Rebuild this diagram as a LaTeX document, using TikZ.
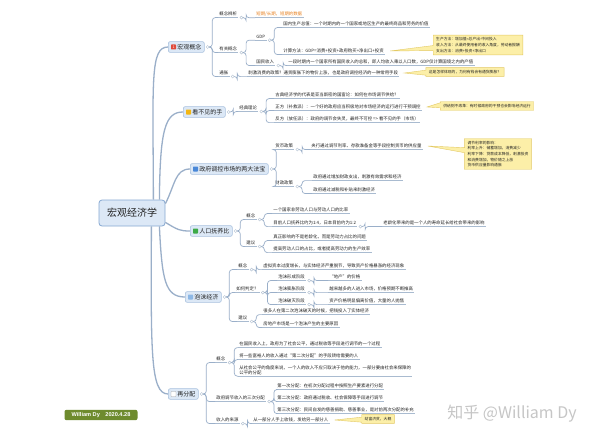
\documentclass[tikz,border=0pt]{standalone}
\usepackage{fontspec}
\setmainfont{Noto Sans CJK SC}
\newfontfamily\sigfont{Liberation Sans}
\usetikzlibrary{calc,shapes.callouts}
\definecolor{linec}{HTML}{9AAFC9}
\definecolor{ulc}{HTML}{A9BBD0}
\definecolor{mainf}{HTML}{DCE8F6}
\definecolor{mainb}{HTML}{A9C1DE}
\definecolor{centb}{HTML}{86A8D2}
\definecolor{txt}{HTML}{222222}
\definecolor{cofill}{HTML}{FCEFA8}
\definecolor{codraw}{HTML}{E3C964}
\definecolor{orangetx}{HTML}{E8801E}
\definecolor{sigf}{HTML}{6E8B2E}
\definecolor{dotc}{HTML}{B3C1D1}
\definecolor{icred}{HTML}{E04A3A}
\definecolor{icyel}{HTML}{F3B613}
\definecolor{icblue}{HTML}{4A88D8}
\definecolor{icgreen}{HTML}{3DAA48}
\definecolor{iclblue}{HTML}{8DB8E6}
\newcommand\lfnt{\fontsize{4.4}{5.2}\selectfont}
\newcommand\mfnt{\fontsize{6}{7}\selectfont}
\newcommand\cfnt{\fontsize{3.8}{5.6}\selectfont}
\newcommand\lfx[4][]{\node[leaf,#1] (#2) at (#3) {#4};}
\newcommand\dtx[1]{\node[dotn] (#1c) at ([xshift=3pt]#1.south east) {};}
\newcommand\cnx[2]{\draw[cline] (#1.east) -- ++(3,0) |- (#2.south west);}
\tikzset{
 cline/.style={draw=linec, line width=0.7pt, rounded corners=3pt},
 mline/.style={draw=linec, line width=1.3pt},
 uline/.style={draw=ulc, line width=0.5pt},
 leaf/.style={anchor=west, inner xsep=1.2pt, inner ysep=1.3pt, font=\lfnt, text=txt, append after command={(\tikzlastnode.south west) edge[uline] (\tikzlastnode.south east)}},
 dotn/.style={circle, draw=dotc, fill=white, line width=0.4pt, minimum size=3pt, inner sep=0pt},
 mainnode/.style={anchor=west, draw=mainb, fill=mainf, rounded corners=2pt, line width=0.6pt, font=\mfnt, text=txt, inner xsep=3pt, inner ysep=2.6pt},
 iconb/.style={rectangle, minimum size=5pt, inner sep=0pt, rounded corners=0.6pt, font=\fontsize{3.6}{3.6}\selectfont, text=white},
 co/.style={rectangle callout, fill=cofill, draw=codraw, line width=0.4pt, font=\cfnt, text=txt, align=left, inner xsep=3pt, inner ysep=2.5pt, callout pointer width=5pt},
 centernode/.style={draw=centb, fill=mainf, rounded corners=3pt, line width=0.8pt, font=\fontsize{10}{12}\selectfont, text=txt, minimum width=66pt, minimum height=26pt},
}
\begin{document}
\begin{tikzpicture}[x=1pt,y=-1pt]
\useasboundingbox (0,0) rectangle (600,444);
\fill[white] (0,0) rectangle (600,444);

% centre
\node[centernode] (c) at (132,213) {宏观经济学};

% main nodes
\node[mainnode] (m1) at (168,47) {\hspace*{6pt}宏观概念};
\node[mainnode] (m2) at (183,112) {\hspace*{6pt}看不见的手};
\node[mainnode] (m3) at (190,169) {\hspace*{6pt}政府调控市场的两大法宝};
\node[mainnode] (m4) at (190,231) {\hspace*{6pt}人口抚养比};
\node[mainnode] (m5) at (185,297) {\hspace*{6pt}泡沫经济};
\node[mainnode] (m6) at (168,394) {\hspace*{6pt}再分配};
\node[iconb,fill=icred] (i1) at ([xshift=5.5pt]m1.west) {1};
\node[iconb,fill=icyel] (i2) at ([xshift=5.5pt]m2.west) {};
\node[iconb,fill=icblue] (i3) at ([xshift=5.5pt]m3.west) {};
\node[iconb,fill=icgreen] (i4) at ([xshift=5.5pt]m4.west) {};
\node[iconb,fill=iclblue] (i5) at ([xshift=5.5pt]m5.west) {};
\node[iconb,fill=white,draw=gray!70,line width=0.4pt] (i6) at ([xshift=5.5pt]m6.west) {};
\foreach \m in {m1,m2,m3,m4,m5,m6}{\node[dotn] (\m c) at ([xshift=3pt]\m.east) {};}

% main curves
\draw[mline] ([xshift=-12pt]c.north east) .. controls (153,80) and (150,47) .. (m1.west);
\draw[mline] ([xshift=-6pt]c.north east) .. controls (160,130) and (165,112) .. (m2.west);
\draw[mline] ([yshift=-4pt]c.north east) .. controls (175,185) and (175,169) .. (m3.west);
\draw[mline] ([yshift=4pt]c.south east) .. controls (178,230) and (180,231) .. (m4.west);
\draw[mline] ([xshift=-6pt]c.south east) .. controls (162,280) and (165,297) .. (m5.west);
\draw[mline] ([xshift=-14pt]c.south east) .. controls (151,350) and (150,394) .. (m6.west);

% ---------- branch 1
\lfx{a1}{218,14}{概念辨析} \dtx{a1}
\lfx[text=orangetx]{a11}{255,14}{短期/长期，短期的数据}
\lfx{a2}{218,49}{有关概念} \dtx{a2}
\lfx{a21}{255,37}{GDP} \dtx{a21}
\lfx{a211}{282,24}{国内生产总值：一个时期内的一个国家或地区生产的最终商品和劳务的价值}
\lfx{a212}{282,51}{计算方法：GDP=消费+投资+政府购买+净出口+投资}
\lfx{a22}{255,62}{国民收入} \dtx{a22}
\lfx{a221}{287,62}{一段时期内一个国家所有国民收入的总和，即人均收入乘以人口数，GDP仅计算国境之内的产值}
\lfx{a3}{218,73}{通胀} \dtx{a3}
\lfx{a31}{247,73}{刺激消费的政策？通货膨胀下的物价上涨，也是政府调控经济的一种常用手段}
\cnx{m1c}{a1} \cnx{m1c}{a2} \cnx{m1c}{a3}
\cnx{a1c}{a11} \cnx{a2c}{a21} \cnx{a2c}{a22}
\cnx{a21c}{a211} \cnx{a21c}{a212} \cnx{a22c}{a221} \cnx{a3c}{a31}
\node[co, callout absolute pointer={([xshift=5pt]a212.east)}] (k1) at (478,45) {生产方法：增加值=总产出-中间投入\\收入方法：从最终使用者的收入角度，劳动者报酬\\支出方法：消费+投资+净出口};
\node[co, callout absolute pointer={([xshift=5pt]a31.east)}] (k1b) at (465,72) {这是怎样体现的，为何有钱会有通货膨胀？};

% ---------- branch 2
\lfx{b1}{238,108}{经典理论} \dtx{b1}
\lfx{b11}{274,95}{古典经济学的代表是亚当斯密的国富论：如何在市场调节供给？}
\lfx{b12}{274,107}{正方（补救派）：一个好的政府应当积极地对市场经济的运行进行干预调控}
\lfx{b13}{274,119}{反方（放任派）：政府的调节会失灵，最终不可控 => 看不见的手（市场）}
\cnx{m2c}{b1} \cnx{b1c}{b11} \cnx{b1c}{b12} \cnx{b1c}{b13}
\node[co, callout absolute pointer={([xshift=5pt]b12.east)}] (k2) at (487,106) {供给侧不改革：有时候政府的干预也会影响经济运行};

% ---------- branch 3
\lfx{c1}{274,146}{货币政策} \dtx{c1}
\lfx{c11}{310,146}{央行通过调节利率、存款准备金等手段控制货币的供应量}
\lfx{c2}{274,183}{财政政策} \dtx{c2}
\lfx{c21}{312,177}{政府通过增加财政支出，刺激有效需求和经济}
\lfx{c22}{312,190}{政府通过减税和补贴来刺激经济}
\cnx{m3c}{c1} \cnx{m3c}{c2} \cnx{c1c}{c11} \cnx{c2c}{c21} \cnx{c2c}{c22}
\node[co, callout absolute pointer={([xshift=5pt]c11.east)}] (k3) at (498,154) {调节利率的影响：\\利率上升：储蓄增加，消费减少\\利率下降：贷款成本降低，刺激投资\\和消费增加，物价随之上涨\\货币供应量影响通胀};

% ---------- branch 4
\lfx{d1}{245,216}{概念} \dtx{d1}
\lfx{d11}{272,210}{一个国家非劳动人口与劳动人口的比率}
\lfx{d12}{272,223}{目前人口抚养比约为1:4，日本目前约为1:2} \dtx{d12}
\lfx{d121}{382,223}{老龄化带来的是一个人的寿命延长给社会带来的影响}
\lfx{d2}{245,243}{建议} \dtx{d2}
\lfx{d21}{272,237}{真正影响的不是老龄化，而是劳动力占比的问题}
\lfx{d22}{272,249}{提高劳动人口的占比，或者提高劳动力的生产效率}
\cnx{m4c}{d1} \cnx{m4c}{d2} \cnx{d1c}{d11} \cnx{d1c}{d12} \cnx{d12c}{d121}
\cnx{d2c}{d21} \cnx{d2c}{d22}

% ---------- branch 5
\lfx{e1}{237,266}{概念} \dtx{e1}
\lfx{e11}{262,266}{虚拟资本过度增长，与实体经济严重脱节，导致资产价格暴涨的经济现象}
\lfx{e2}{235,289}{如何判定？} \dtx{e2}
\lfx{e21}{277,277}{泡沫形成阶段} \dtx{e21}
\lfx{e211}{328,277}{“地产”的价格}
\lfx{e22}{277,289}{泡沫膨胀阶段} \dtx{e22}
\lfx{e221}{328,289}{越来越多的人进入市场，价格预期不断推高}
\lfx{e23}{277,301}{泡沫破灭阶段} \dtx{e23}
\lfx{e231}{328,301}{资产价格明显偏离价值，大量的人抛售}
\lfx{e3}{237,318}{建议} \dtx{e3}
\lfx{e31}{262,311}{很多人在第二次泡沫破灭的时候，把钱投入了实体经济}
\lfx{e32}{262,324}{房地产市场是一个泡沫产生的主要原因}
\cnx{m5c}{e1} \cnx{m5c}{e2} \cnx{m5c}{e3} \cnx{e1c}{e11}
\cnx{e2c}{e21} \cnx{e2c}{e22} \cnx{e2c}{e23}
\cnx{e21c}{e211} \cnx{e22c}{e221} \cnx{e23c}{e231}
\cnx{e3c}{e31} \cnx{e3c}{e32}

% ---------- branch 6
\lfx{f1}{215,359}{概念} \dtx{f1}
\lfx{f11}{238,344}{在国民收入上，政府为了社会公平，通过税收等手段进行调节的一个过程}
\lfx{f12}{238,356}{将一些富裕人的收入通过“第二次分配”的手段转给需要的人}
\lfx[align=left]{f13}{238,370}{从社会公平的角度来说，一个人的收入不应只取决于他的能力，一部分要由社会来保障的\\公平的分配}
\lfx{f2}{215,398}{政府调节收入的三次分配} \dtx{f2}
\lfx{f21}{276,386}{第一次分配：在初次分配过程中按照生产要素进行分配}
\lfx{f22}{276,398}{第二次分配：政府通过税收、社会保障等手段进行调节}
\lfx{f23}{276,410}{第三次分配：民间自发的慈善捐助、慈善事业，是对前两次分配的补充}
\lfx{f3}{215,420}{收入的来源} \dtx{f3}
\lfx{f31}{252,420}{从一部分人手上收钱，发给另一部分人}
\cnx{m6c}{f1} \cnx{m6c}{f2} \cnx{m6c}{f3}
\cnx{f1c}{f11} \cnx{f1c}{f12} \cnx{f1c}{f13}
\cnx{f2c}{f21} \cnx{f2c}{f22} \cnx{f2c}{f23} \cnx{f3c}{f31}
\node[co, callout absolute pointer={([xshift=5pt]f31.east)}] (k4) at (378,419) {劫富济贫，大概};

% signature and watermark
\node[fill=sigf, text=white, rounded corners=2pt, font=\sigfont\bfseries\fontsize{5.6}{6.5}\selectfont, minimum width=73pt, inner ysep=2.6pt] (sig) at (101,415) {William Dy\quad 2020.4.28};
\node[text=gray!45, font=\fontsize{16}{18}\selectfont] (wm) at (512,414) {知乎 @William Dy};
\end{tikzpicture}
\end{document}
